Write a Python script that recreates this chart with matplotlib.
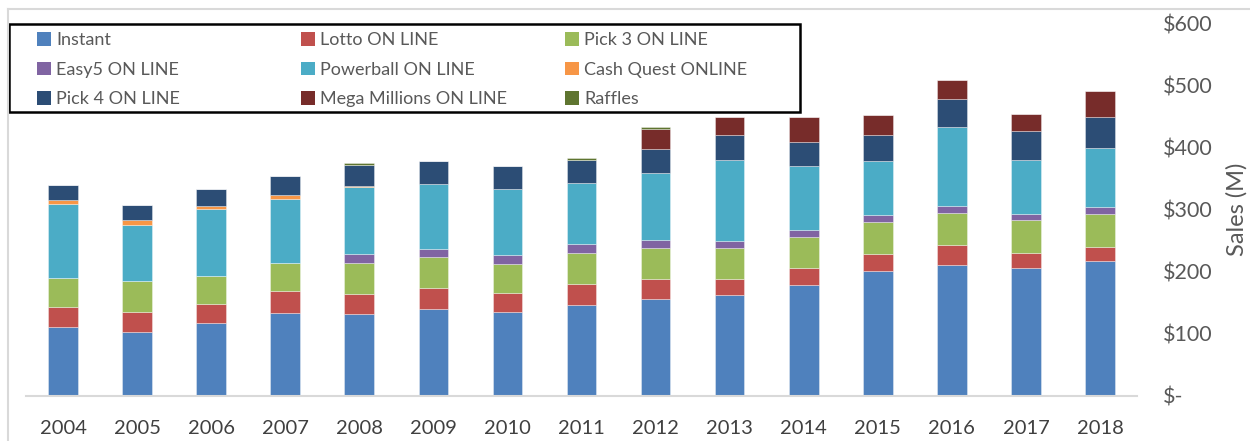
import matplotlib
matplotlib.use("Agg")
import matplotlib.pyplot as plt
from matplotlib.patches import Patch, Rectangle
from matplotlib.lines import Line2D
import numpy as np

years = ["2004", "2005", "2006", "2007", "2008", "2009", "2010", "2011",
         "2012", "2013", "2014", "2015", "2016", "2017", "2018"]
instant   = [110, 103, 117, 133, 131, 139, 135, 146, 156, 162, 178, 201, 211, 205, 216]
lotto     = [33, 32, 31, 35, 32, 34, 30, 34, 32, 26, 28, 27, 31, 25, 24]
pick3     = [47, 49, 44, 46, 51, 50, 47, 49, 49, 50, 50, 52, 52, 52, 53]
easy5     = [0, 0, 0, 0, 14, 13, 15, 15, 13, 11, 11, 10, 11, 11, 10]
powerball = [119, 91, 108, 103, 108, 105, 106, 98, 108, 131, 102, 88, 127, 86, 96]
cashquest = [6, 7, 5, 6, 1, 0, 0, 0, 0, 0, 0, 0, 0, 0, 0]
pick4     = [24, 25, 27, 31, 35, 36, 36, 38, 39, 40, 40, 41, 46, 47, 49]
mega      = [0, 0, 0, 0, 0, 0, 0, 0, 32, 28, 39, 33, 30, 28, 42]
raffles   = [0, 0, 0, 0, 3, 0, 0, 3, 3, 0, 0, 0, 0, 0, 0]

series_names = ["Instant", "Lotto ON LINE", "Pick 3 ON LINE", "Easy5 ON LINE",
                "Powerball ON LINE", "Cash Quest ONLINE", "Pick 4 ON LINE",
                "Mega Millions ON LINE", "Raffles"]
series_vals = [instant, lotto, pick3, easy5, powerball, cashquest, pick4, mega, raffles]
colors = ["#4F81BD", "#C0504D", "#9BBB59", "#8064A2", "#4BACC6", "#F79646",
          "#2C4D75", "#772C2A", "#5F7530"]
yticks = [0, 100, 200, 300, 400, 500, 600]
ytick_labels = ["$-", "$100", "$200", "$300", "$400", "$500", "$600"]

plt.rcParams['font.family'] = ['Lato', 'DejaVu Sans']
W, H = 1250, 441
fig = plt.figure(figsize=(W / 100, H / 100), dpi=100)
ax = fig.add_axes([26 / W, 1 - 395.5 / H, (1137 - 26) / W, (395.5 - 23) / H])

x = np.arange(len(years))
bottom = np.zeros(len(years))
for name, vals, c in zip(series_names, series_vals, colors):
    v = np.array(vals, dtype=float)
    ax.bar(x, v, width=0.4, bottom=bottom, color=c, edgecolor=(1, 1, 1, 0.5),
           linewidth=0.5, label=name, zorder=2)
    bottom += v

ax.set_xlim(-0.5, len(years) - 0.5)
ax.set_ylim(0, 600)
ax.set_xticks(x)
ax.set_xticklabels(years, fontsize=14.5, color="#404040")
ax.yaxis.tick_right()
ax.set_yticks(yticks)
ax.set_yticklabels(ytick_labels, fontsize=15.5, color="#595959")
ax.tick_params(axis='x', length=0, pad=18)
ax.tick_params(axis='y', length=0, pad=19)
for s in ["top", "left", "right"]:
    ax.spines[s].set_visible(False)
ax.spines["bottom"].set_color("#D9D9D9")
ax.spines["bottom"].set_linewidth(1.5)

fig.text(1237 / W, 1 - 209 / H, "Sales (M)", rotation=90, ha="center", va="center",
         fontsize=17, color="#595959")

# chart border (partially cropped)
fig.add_artist(Line2D([8 / W, 8 / W], [0, 1 - 9 / H], transform=fig.transFigure,
                      color="#D9D9D9", lw=1.5))
fig.add_artist(Line2D([8 / W, 1], [1 - 9 / H, 1 - 9 / H], transform=fig.transFigure,
                      color="#D9D9D9", lw=1.5))

# legend frame
fig.add_artist(Rectangle((9 / W, 1 - 112 / H), (800 - 9) / W, (112 - 24) / H,
                         transform=fig.transFigure, fill=False, edgecolor="black", lw=1.8))

handles = [Patch(facecolor=c, edgecolor="none") for c in colors]
col_x = [30, 294, 558]
for ci in range(3):
    idx = [ci, ci + 3, ci + 6]
    fig.legend([handles[i] for i in idx], [series_names[i] for i in idx],
               loc="upper left", bbox_to_anchor=(col_x[ci] / W, 1 - 25 / H),
               frameon=False, fontsize=13, labelcolor="#595959",
               handlelength=0.75, handleheight=0.75, handletextpad=0.3,
               labelspacing=0.75, borderaxespad=0, borderpad=0.4)

fig.savefig("out.png", dpi=100)
